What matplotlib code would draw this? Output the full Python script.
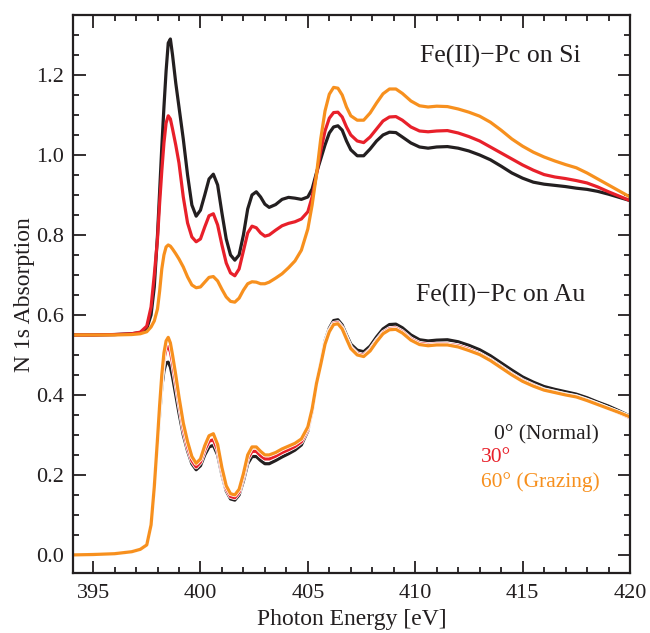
import numpy as np
import matplotlib
matplotlib.use("Agg")
import matplotlib.pyplot as plt
from matplotlib.ticker import MultipleLocator
import matplotlib.patheffects as pe

plt.rcParams['font.family'] = ['Liberation Serif', 'DejaVu Serif']
plt.rcParams['mathtext.fontset'] = 'stix'

# photon energy grid (eV), shared by all six spectra
energy = [394.05, 395.0, 396.0, 396.8, 397.2, 397.5, 397.7, 397.85,
          398.0, 398.1, 398.2, 398.3, 398.4, 398.5, 398.6, 398.7, 398.85,
          399.0, 399.2, 399.4, 399.6, 399.8, 400.0, 400.2, 400.4, 400.6, 400.8,
          401.0, 401.2, 401.4, 401.6, 401.8, 402.0, 402.2, 402.4, 402.6, 402.8,
          403.0, 403.2, 403.5, 403.8, 404.1, 404.4, 404.7, 405.0, 405.2, 405.4,
          405.6, 405.8, 406.0, 406.2, 406.4, 406.6, 406.8, 407.0, 407.3, 407.6,
          407.9, 408.2, 408.5, 408.8, 409.1, 409.4, 409.8, 410.2, 410.6, 411.0,
          411.5, 412.0, 412.5, 413.0, 413.5, 414.0, 414.5, 415.0, 415.5, 416.0,
          416.5, 417.0, 417.5, 418.0, 418.5, 419.0, 419.5, 420.0]

# Fe(II)-Pc on Si (offset spectra)
si_0 = [0.550, 0.550, 0.551, 0.553, 0.556, 0.566, 0.60, 0.67,
        0.80, 0.91, 1.02, 1.12, 1.21, 1.28, 1.29, 1.25, 1.18,
        1.12, 1.04, 0.95, 0.875, 0.847, 0.862, 0.90, 0.94, 0.952, 0.925,
        0.855, 0.79, 0.75, 0.737, 0.75, 0.80, 0.865, 0.90, 0.908, 0.895,
        0.877, 0.869, 0.876, 0.889, 0.894, 0.892, 0.889, 0.895, 0.915, 0.955,
        0.99, 1.025, 1.055, 1.07, 1.073, 1.062, 1.035, 1.013, 0.998, 0.998,
        1.015, 1.035, 1.05, 1.057, 1.056, 1.045, 1.03, 1.02, 1.017, 1.02,
        1.021, 1.017, 1.01, 1.0, 0.988, 0.972, 0.955, 0.942, 0.932, 0.927,
        0.924, 0.921, 0.917, 0.914, 0.909, 0.902, 0.894, 0.886]
si_30 = [0.550, 0.550, 0.551, 0.553, 0.557, 0.572, 0.62, 0.70,
         0.79, 0.88, 0.96, 1.03, 1.08, 1.098, 1.09, 1.065, 1.025,
         0.98, 0.895, 0.83, 0.795, 0.783, 0.79, 0.82, 0.848, 0.853, 0.825,
         0.775, 0.73, 0.705, 0.698, 0.715, 0.76, 0.805, 0.822, 0.818, 0.805,
         0.797, 0.8, 0.812, 0.823, 0.829, 0.833, 0.84, 0.858, 0.895, 0.95,
         1.01, 1.06, 1.092, 1.106, 1.107, 1.095, 1.07, 1.05, 1.035, 1.031,
         1.045, 1.065, 1.085, 1.095, 1.096, 1.087, 1.07, 1.06, 1.058, 1.06,
         1.061, 1.055, 1.046, 1.035, 1.02, 1.005, 0.99, 0.975, 0.962, 0.951,
         0.945, 0.941, 0.936, 0.93, 0.92, 0.908, 0.897, 0.886]
si_60 = [0.550, 0.550, 0.550, 0.551, 0.553, 0.558, 0.570, 0.585,
         0.615, 0.66, 0.715, 0.75, 0.77, 0.775, 0.772, 0.765, 0.753,
         0.74, 0.72, 0.695, 0.675, 0.668, 0.67, 0.682, 0.694, 0.696, 0.685,
         0.664, 0.645, 0.634, 0.632, 0.642, 0.662, 0.678, 0.683, 0.682, 0.678,
         0.678, 0.682, 0.692, 0.703, 0.718, 0.735, 0.762, 0.815, 0.875, 0.95,
         1.04, 1.11, 1.152, 1.169, 1.167, 1.15, 1.12, 1.098, 1.087, 1.087,
         1.105, 1.13, 1.153, 1.165, 1.165, 1.154, 1.135, 1.123, 1.12, 1.122,
         1.121, 1.115, 1.107, 1.097, 1.082, 1.062, 1.04, 1.022, 1.007, 0.995,
         0.985, 0.976, 0.968, 0.955, 0.94, 0.925, 0.91, 0.895]

# Fe(II)-Pc on Au
au_0 = [0.0, 0.001, 0.003, 0.008, 0.014, 0.025, 0.075, 0.17,
        0.28, 0.35, 0.42, 0.46, 0.48, 0.482, 0.47, 0.445, 0.40,
        0.355, 0.30, 0.26, 0.228, 0.213, 0.223, 0.25, 0.27, 0.274, 0.25,
        0.2, 0.16, 0.14, 0.137, 0.15, 0.185, 0.228, 0.246, 0.246, 0.236,
        0.228, 0.228, 0.236, 0.245, 0.253, 0.262, 0.275, 0.31, 0.36, 0.43,
        0.48, 0.535, 0.567, 0.586, 0.588, 0.575, 0.55, 0.527, 0.512, 0.508,
        0.522, 0.545, 0.565, 0.576, 0.577, 0.568, 0.55, 0.538, 0.535, 0.537,
        0.538, 0.533, 0.524, 0.513, 0.498, 0.48, 0.462, 0.445, 0.432, 0.421,
        0.414, 0.408, 0.402, 0.393, 0.382, 0.372, 0.36, 0.347]
au_30 = [0.0, 0.001, 0.003, 0.008, 0.014, 0.025, 0.075, 0.17,
         0.29, 0.37, 0.44, 0.49, 0.515, 0.521, 0.508, 0.48, 0.43,
         0.38, 0.315, 0.27, 0.236, 0.22, 0.232, 0.262, 0.284, 0.288, 0.262,
         0.208, 0.166, 0.146, 0.143, 0.157, 0.195, 0.24, 0.259, 0.259, 0.248,
         0.24, 0.24, 0.247, 0.256, 0.263, 0.271, 0.283, 0.315, 0.36, 0.428,
         0.478, 0.53, 0.561, 0.579, 0.581, 0.568, 0.543, 0.519, 0.503, 0.499,
         0.513, 0.536, 0.556, 0.566, 0.567, 0.558, 0.54, 0.529, 0.526, 0.527,
         0.527, 0.523, 0.514, 0.503, 0.488, 0.47, 0.452, 0.436, 0.424, 0.413,
         0.407, 0.401, 0.396, 0.387, 0.377, 0.366, 0.355, 0.343]
au_60 = [0.0, 0.001, 0.003, 0.008, 0.014, 0.025, 0.075, 0.17,
         0.29, 0.375, 0.45, 0.505, 0.535, 0.544, 0.53, 0.50, 0.45,
         0.395, 0.33, 0.283, 0.246, 0.229, 0.24, 0.273, 0.298, 0.303, 0.276,
         0.218, 0.173, 0.153, 0.15, 0.164, 0.203, 0.25, 0.27, 0.27, 0.259,
         0.25, 0.25, 0.256, 0.265, 0.272, 0.279, 0.29, 0.32, 0.365, 0.428,
         0.476, 0.527, 0.558, 0.576, 0.578, 0.565, 0.54, 0.516, 0.5, 0.496,
         0.51, 0.533, 0.553, 0.563, 0.564, 0.555, 0.537, 0.526, 0.523, 0.525,
         0.525, 0.52, 0.511, 0.501, 0.486, 0.468, 0.45, 0.434, 0.422, 0.412,
         0.406, 0.4, 0.395, 0.386, 0.376, 0.366, 0.356, 0.345]

labels = ['0° (Normal)', '30°', '60° (Grazing)']
colors = ['#231f20', '#e8202a', '#f7901e']

fig = plt.figure(figsize=(6.5, 6.33), dpi=100)
ax = fig.add_axes([0.1118, 0.0943, 0.8574, 0.882])

stroke = [pe.Stroke(linewidth=3.4, foreground='white'), pe.Normal()]
for y, c in zip([au_0, au_30, au_60], colors):
    ax.plot(energy, y, color=c, lw=2.3, path_effects=stroke,
            solid_joinstyle='round')
for y, c in zip([si_0, si_30, si_60], colors):
    ax.plot(energy, y, color=c, lw=2.3, solid_joinstyle='round')

ax.set_xlim(394.05, 420)
ax.set_ylim(-0.046, 1.35)
ax.xaxis.set_major_locator(MultipleLocator(5))
ax.xaxis.set_minor_locator(MultipleLocator(1))
ax.yaxis.set_major_locator(MultipleLocator(0.2))
ax.yaxis.set_minor_locator(MultipleLocator(0.05))
ax.yaxis.set_major_formatter(matplotlib.ticker.FormatStrFormatter('%.1f'))
ax.tick_params(which='both', direction='in', top=True, right=True,
               width=1.3, color='#231f20', labelsize=16, labelcolor='#231f20')
ax.tick_params(axis='x', which='major', length=9, pad=8)
ax.tick_params(axis='y', which='major', length=9, pad=6)
ax.tick_params(which='minor', length=4.5)
for s in ax.spines.values():
    s.set_linewidth(1.6)
    s.set_color('#231f20')

ax.set_xlabel('Photon Energy [eV]', fontsize=17, color='#231f20', labelpad=4)
ax.set_ylabel('N 1s Absorption', fontsize=17, color='#231f20', labelpad=1)

ax.text(0.623, 0.925, 'Fe(II)\u2212Pc on Si', transform=ax.transAxes,
        fontsize=18.5, color='#231f20', va='center', ha='left')
ax.text(0.616, 0.497, 'Fe(II)\u2212Pc on Au', transform=ax.transAxes,
        fontsize=18.5, color='#231f20', va='center', ha='left')

lx_right = 0.945
lx_left = 0.732
ax.text(lx_right, 0.248, labels[0], transform=ax.transAxes, fontsize=15.5,
        color=colors[0], ha='right', va='center')
ax.text(lx_left, 0.207, labels[1], transform=ax.transAxes, fontsize=15.5,
        color=colors[1], ha='left', va='center')
ax.text(lx_left, 0.163, labels[2], transform=ax.transAxes, fontsize=15.5,
        color=colors[2], ha='left', va='center')

fig.savefig('out.png', dpi=100)
